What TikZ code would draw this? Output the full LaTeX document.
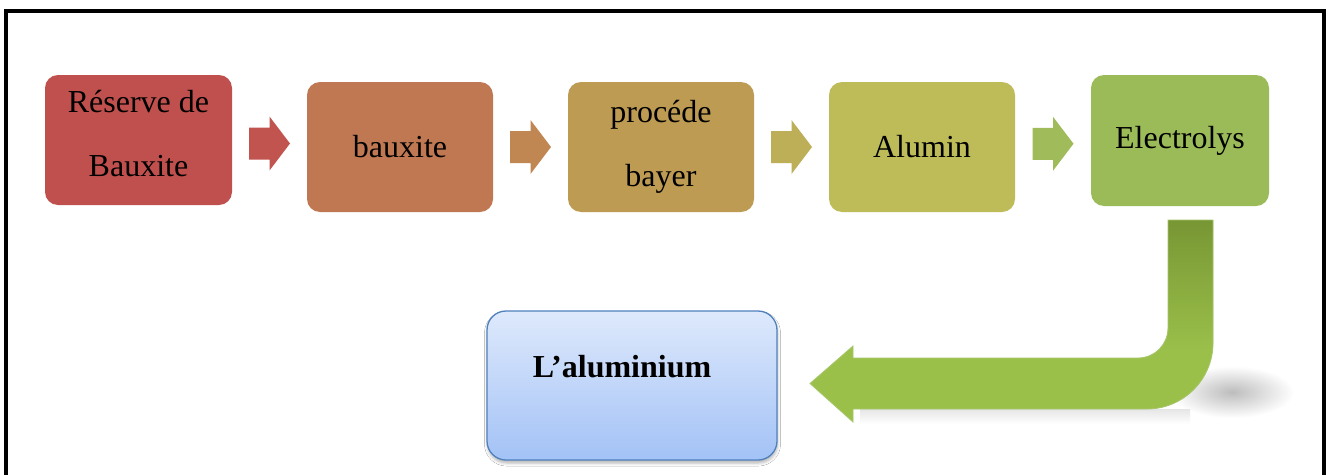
\documentclass[tikz,border=0pt]{standalone}
\usepackage{fontspec}
\setmainfont{Liberation Serif}
\usetikzlibrary{calc,shadows.blur}

\definecolor{c1}{HTML}{C0504D}
\definecolor{c2}{HTML}{BF7852}
\definecolor{c3}{HTML}{BE9B53}
\definecolor{c4}{HTML}{BDBC59}
\definecolor{c5}{HTML}{9BBB59}
\definecolor{a1c}{HTML}{C25450}
\definecolor{a2c}{HTML}{C08752}
\definecolor{a3c}{HTML}{BDAF57}
\definecolor{a4c}{HTML}{A0BC5A}
\definecolor{gdark}{HTML}{779634}
\definecolor{glight}{HTML}{9BC04A}
\definecolor{gedge}{HTML}{A6C66C}
\definecolor{bltop}{HTML}{DEE9FC}
\definecolor{blbot}{HTML}{A3C2F6}
\definecolor{bledge}{HTML}{4F81BD}

\tikzset{
  stepbox/.style={rectangle, rounded corners=13, inner sep=0pt, draw=none,
    minimum height=130, align=center,
    font=\fontsize{32}{64}\selectfont},
  endbox/.style={rectangle, rounded corners=19, inner sep=0pt,
    draw=bledge, line width=1.3pt, top color=bltop, bottom color=blbot,
    minimum width=290, minimum height=149,
    font=\fontsize{32}{38}\selectfont\bfseries,
    blur shadow={shadow xshift=0.5pt, shadow yshift=-3pt, shadow blur radius=3pt, shadow opacity=30}},
  frame/.style={line width=4pt, black},
  pics/blockarrow/.style={code={
    \fill[#1] (-20.5,-16) -- (0,-16) -- (0,-27) -- (20.5,0) -- (0,27) -- (0,16) -- (-20.5,16) -- cycle;}}
}

\def\bentpath{(1168,220) -- (1213,220) -- (1213,343)
  .. controls (1213,379.4) and (1183.4,409) .. (1147,409)
  -- (853,409) -- (853,422) -- (810,383.5) -- (853,346) -- (853,358)
  -- (1138,358) .. controls (1154.6,358) and (1168,344.6) .. (1168,328) -- cycle}

\begin{document}
\begin{tikzpicture}[x=1pt,y=-1pt]
\useasboundingbox (0,0) rectangle (1330,474);
\fill[white] (0,0) rectangle (1330,474);

% frame
\draw[frame] (6,500) -- (6,10.5) -- (1324,10.5) -- (1324,500);

% process boxes
\node[stepbox, fill=c1, minimum width=187, text depth=14pt] (b1) at (138.5,140) {Réserve de\\Bauxite};
\node[stepbox, fill=c2, minimum width=186] (b2) at (400,147) {bauxite};
\node[stepbox, fill=c3, minimum width=186] (b3) at (661,147) {procéde\\bayer};
\node[stepbox, fill=c4, minimum width=186] (b4) at (922,147) {Alumin};
\node[stepbox, fill=c5, minimum width=178, minimum height=131] (b5) at (1180,140.5) {Electrolys};

% small arrows between boxes
\pic (a1) at ($(b1.east)!0.5!(b2.west)$) {blockarrow=a1c};
\pic (a2) at ($(b2.east)!0.5!(b3.west)$) {blockarrow=a2c};
\pic (a3) at ($(b3.east)!0.5!(b4.west)$) {blockarrow=a3c};
\pic (a4) at ($(b4.east)!0.5!(b5.west)$) {blockarrow=a4c};

% shadow of the bent arrow
\shade[inner color=black!26, outer color=white] (1232,392) ellipse (62 and 26);
\shade[top color=black!10, bottom color=white] (860,409) rectangle (1190,424);

% bent arrow
\begin{scope}
  \clip \bentpath;
  \fill[glight] (800,210) rectangle (1230,430);
  \shade[top color=gdark, bottom color=glight] (1160,219) rectangle (1220,352);
\end{scope}
\draw[gedge, line width=0.8pt] \bentpath;

% final box
\node[endbox] (al) at (632,385.5) {\hspace*{-20pt}L’aluminium\rule[-39pt]{0pt}{0pt}};
\end{tikzpicture}
\end{document}
